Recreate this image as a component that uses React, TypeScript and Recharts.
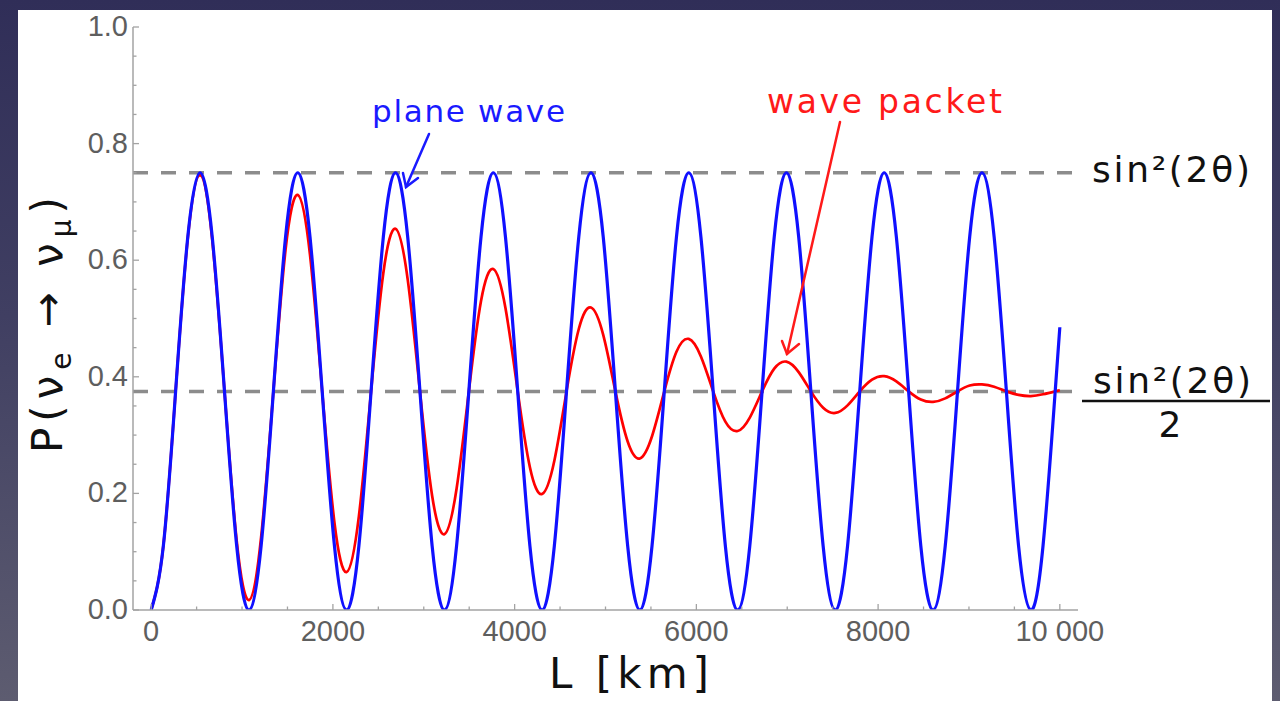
import React from 'react';
import { LineChart, Line, XAxis, YAxis, ReferenceLine } from 'recharts';

// Baseline length L [km] (sampled every 1/8 oscillation period)
const lengths = [
  0, 134, 269, 403, 538, 672, 807, 941,
  1076, 1210, 1345, 1479, 1613, 1748, 1882, 2017,
  2151, 2286, 2420, 2555, 2689, 2823, 2958, 3092,
  3227, 3361, 3496, 3630, 3765, 3899, 4034, 4168,
  4302, 4437, 4571, 4706, 4840, 4975, 5109, 5244,
  5378, 5512, 5647, 5781, 5916, 6050, 6185, 6319,
  6454, 6588, 6723, 6857, 6991, 7126, 7260, 7395,
  7529, 7664, 7798, 7933, 8067, 8201, 8336, 8470,
  8605, 8739, 8874, 9008, 9143, 9277, 9412, 9546,
  9680, 9815, 9949, 10000,
];

// Plane wave oscillation probability
const planeWave = [
  0, 0.11, 0.375, 0.64, 0.75, 0.64, 0.375, 0.11,
  0, 0.11, 0.375, 0.64, 0.75, 0.64, 0.375, 0.11,
  0, 0.11, 0.375, 0.64, 0.75, 0.64, 0.375, 0.11,
  0, 0.11, 0.375, 0.64, 0.75, 0.64, 0.375, 0.11,
  0, 0.11, 0.375, 0.64, 0.75, 0.64, 0.375, 0.11,
  0, 0.11, 0.375, 0.64, 0.75, 0.64, 0.375, 0.11,
  0, 0.11, 0.375, 0.64, 0.75, 0.64, 0.375, 0.11,
  0, 0.11, 0.375, 0.64, 0.75, 0.64, 0.375, 0.11,
  0, 0.11, 0.375, 0.64, 0.75, 0.64, 0.375, 0.11,
  0, 0.11, 0.375, 0.485,
];

// Wave packet oscillation probability (decoherence)
const wavePacket = [
  0, 0.110, 0.375, 0.638, 0.746, 0.635, 0.375, 0.119,
  0.017, 0.125, 0.375, 0.618, 0.712, 0.609, 0.375, 0.150,
  0.065, 0.161, 0.375, 0.578, 0.654, 0.567, 0.375, 0.196,
  0.130, 0.208, 0.375, 0.530, 0.585, 0.518, 0.375, 0.245,
  0.199, 0.256, 0.375, 0.482, 0.519, 0.472, 0.375, 0.289,
  0.260, 0.298, 0.375, 0.443, 0.465, 0.435, 0.375, 0.323,
  0.307, 0.330, 0.375, 0.414, 0.426, 0.408, 0.375, 0.347,
  0.338, 0.351, 0.375, 0.395, 0.401, 0.392, 0.375, 0.361,
  0.357, 0.363, 0.375, 0.385, 0.387, 0.383, 0.375, 0.369,
  0.367, 0.370, 0.375, 0.377,
];

const xTicks = [0, 500, 1000, 1500, 2000, 2500, 3000, 3500, 4000, 4500, 5000, 5500, 6000, 6500, 7000, 7500, 8000, 8500, 9000, 9500, 10000];
const xMajorLabels: Record<number, string> = { 0: '0', 2000: '2000', 4000: '4000', 6000: '6000', 8000: '8000', 10000: '10 000' };
const yTicks = [0, 0.05, 0.1, 0.15, 0.2, 0.25, 0.3, 0.35, 0.4, 0.45, 0.5, 0.55, 0.6, 0.65, 0.7, 0.75, 0.8, 0.85, 0.9, 0.95, 1.0];
const yMajorLabels: Record<string, string> = { '0': '0.0', '0.2': '0.2', '0.4': '0.4', '0.6': '0.6', '0.8': '0.8', '1': '1.0' };
const refLevels = [0.75, 0.375];

const data = lengths.map((L, i) => ({ L, plane: planeWave[i], packet: wavePacket[i] }));

const FRAME = '#a3a3a3';
const LABEL = '#5e5e5e';
const TICKFONT = '"Liberation Sans", Arial, sans-serif';
const HAND = '"DejaVu Sans", sans-serif';

const isYMajor = (v: number) => yMajorLabels[String(Math.round(v * 100) / 100)] !== undefined;

const BottomTick = (p: any) => {
  const { x, y, payload } = p;
  const v = payload.value;
  const lab = xMajorLabels[v];
  return (
    <g>
      <line x1={x} x2={x} y1={y} y2={y - (lab ? 6 : 3.5)} stroke={FRAME} strokeWidth={1.3} />
      {lab && (
        <text x={x} y={y + 31} textAnchor="middle" fontSize={29} fill={LABEL} fontFamily={TICKFONT}>
          {lab}
        </text>
      )}
    </g>
  );
};

const TopTick = (p: any) => {
  const { x, y, payload } = p;
  const lab = xMajorLabels[payload.value];
  return <line x1={x} x2={x} y1={y} y2={y + (lab ? 6 : 3.5)} stroke={FRAME} strokeWidth={1.3} />;
};

const LeftTick = (p: any) => {
  const { x, y, payload } = p;
  const v = payload.value;
  const key = String(Math.round(v * 100) / 100);
  const lab = yMajorLabels[key];
  return (
    <g>
      <line x1={x} x2={x + (lab ? 6 : 3.5)} y1={y} y2={y} stroke={FRAME} strokeWidth={1.3} />
      {lab && (
        <text x={x - 5} y={y + 9} textAnchor="end" fontSize={29} fill={LABEL} fontFamily={TICKFONT}>
          {lab}
        </text>
      )}
    </g>
  );
};

const RightTick = (p: any) => {
  const { x, y, payload } = p;
  const major = isYMajor(payload.value);
  return <line x1={x} x2={x - (major ? 6 : 3.5)} y1={y} y2={y} stroke={FRAME} strokeWidth={1.3} />;
};

export default function App() {
  return (
    <div
      style={{
        position: 'absolute',
        left: 0,
        top: 0,
        width: 1280,
        height: 701,
        overflow: 'hidden',
        background: 'linear-gradient(180deg, #302e58 0%, #403f62 45%, #5d5c70 100%)',
      }}
    >
      <div style={{ position: 'absolute', left: 18, top: 10, width: 1254, height: 691, background: '#ffffff' }} />
      <div style={{ position: 'absolute', left: 0, top: 0 }}>
        <LineChart width={1280} height={701} data={data} margin={{ top: 27, right: 202, left: 73, bottom: 51 }}>
          <XAxis
            dataKey="L"
            type="number"
            domain={[-200, 10200]}
            allowDataOverflow
            ticks={xTicks}
            interval={0}
            tickSize={0}
            tickMargin={0}
            tickLine={false}
            tick={BottomTick}
            height={40}
            axisLine={{ stroke: FRAME, strokeWidth: 1.5 }}
          />
          <XAxis
            xAxisId="top"
            orientation="top"
            dataKey="L"
            type="number"
            domain={[-200, 10200]}
            allowDataOverflow
            ticks={xTicks}
            interval={0}
            tickSize={0}
            tickMargin={0}
            tickLine={false}
            tick={TopTick}
            height={0}
            axisLine={{ stroke: FRAME, strokeWidth: 1.5 }}
          />
          <YAxis
            type="number"
            domain={[0, 1]}
            allowDataOverflow
            ticks={yTicks}
            interval={0}
            tickSize={0}
            tickMargin={0}
            tickLine={false}
            tick={LeftTick}
            width={60}
            axisLine={{ stroke: FRAME, strokeWidth: 1.5 }}
          />
          <YAxis
            yAxisId="right"
            orientation="right"
            type="number"
            domain={[0, 1]}
            allowDataOverflow
            ticks={yTicks}
            interval={0}
            tickSize={0}
            tickMargin={0}
            tickLine={false}
            tick={RightTick}
            width={0}
            axisLine={{ stroke: FRAME, strokeWidth: 1.5 }}
          />
          {refLevels.map((lv) => (
            <ReferenceLine key={lv} y={lv} stroke="#8c8c8c" strokeWidth={3.5} strokeDasharray="15 13" />
          ))}
          <Line
            dataKey="packet"
            type="natural"
            stroke="#ff0000"
            strokeWidth={2.7}
            dot={false}
            activeDot={false}
            isAnimationActive={false}
          />
          <Line
            dataKey="plane"
            type="natural"
            stroke="#1010ff"
            strokeWidth={3.2}
            dot={false}
            activeDot={false}
            isAnimationActive={false}
          />
        </LineChart>
      </div>
      <svg
        width={1280}
        height={701}
        style={{ position: 'absolute', left: 0, top: 0, pointerEvents: 'none' }}
      >
        {/* axis titles */}
        <text
          x={62}
          y={453}
          transform="rotate(-90, 62, 453)"
          fontSize={42}
          fontFamily={HAND}
          fill="#111"
          textLength={256}
          lengthAdjust="spacing"
        >
          P(ν<tspan dy={9} fontSize={28}>e</tspan>
          <tspan dy={-9}> → ν</tspan>
          <tspan dy={9} fontSize={28}>μ</tspan>
          <tspan dy={-9}>)</tspan>
        </text>
        <text x={549} y={688} fontSize={42} fontFamily={HAND} fill="#111" textLength={160} lengthAdjust="spacing">
          L [km]
        </text>

        {/* right side labels */}
        <text x={1092} y={182} fontSize={36} fontFamily={HAND} fill="#111" textLength={158} lengthAdjust="spacing">
          sin²(2θ)
        </text>
        <text x={1093} y={393} fontSize={36} fontFamily={HAND} fill="#111" textLength={158} lengthAdjust="spacing">
          sin²(2θ)
        </text>
        <line x1={1082} x2={1270} y1={401} y2={401} stroke="#111" strokeWidth={2.5} />
        <text x={1170} y={437} textAnchor="middle" fontSize={36} fontFamily={HAND} fill="#111">
          2
        </text>

        {/* annotations */}
        <text x={372} y={122} fontSize={31} fontFamily={HAND} fill="#1a1aff" textLength={193} lengthAdjust="spacing">
          plane wave
        </text>
        <g stroke="#1a1aff" strokeWidth={2.5} fill="none" strokeLinecap="round">
          <line x1={429} y1={134} x2={406} y2={187} />
          <polyline points="403,173 406,187 418,178" />
        </g>
        <text x={767} y={113} fontSize={33} fontFamily={HAND} fill="#ff1a1a" textLength={235} lengthAdjust="spacing">
          wave packet
        </text>
        <g stroke="#ff1a1a" strokeWidth={2.5} fill="none" strokeLinecap="round">
          <line x1={840} y1={122} x2={787} y2={354} />
          <polyline points="782,341 787,354 799,344" />
        </g>
      </svg>
    </div>
  );
}
